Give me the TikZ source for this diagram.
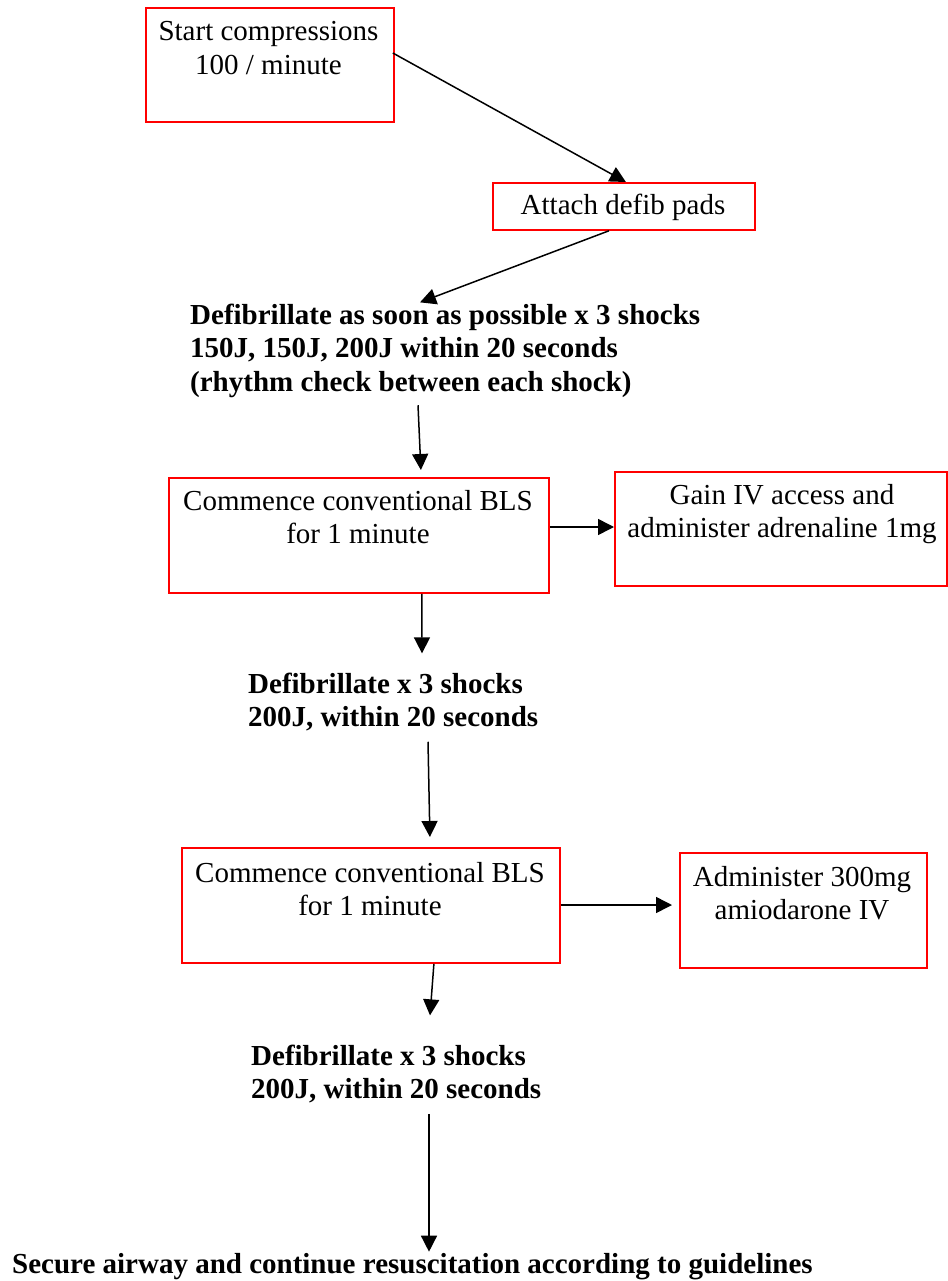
\documentclass[tikz,border=0pt]{standalone}
\usepackage{fontspec}
\setmainfont{Liberation Serif}
\usetikzlibrary{arrows.meta,calc}
\begin{document}
\begin{tikzpicture}[x=1pt,y=-1pt,
  box/.style={draw=red,line width=1.8pt,inner sep=0pt,anchor=north west},
  txt/.style={inner sep=0pt,font=\fontsize{29}{33.5}\selectfont},
  btxt/.style={txt,font=\fontsize{29}{33.5}\selectfont\bfseries,anchor=base west},
  arr/.style={-{Triangle[length=16pt,width=16pt]},line width=1.5pt}]
\useasboundingbox (0,0) rectangle (947,1281);
% boxes
\node[box,minimum width=248pt,minimum height=114pt] (b1) at (145,7) {};
\node[box,minimum width=262pt,minimum height=47pt] (b2) at (492,182) {};
\node[box,minimum width=380pt,minimum height=115pt] (b4) at (168,477) {};
\node[box,minimum width=332pt,minimum height=114pt] (b5) at (614,471) {};
\node[box,minimum width=378pt,minimum height=115pt] (b7) at (181,847) {};
\node[box,minimum width=247pt,minimum height=115pt] (b8) at (679,852) {};
% texts
\node[txt,anchor=base] (t1) at (268.5,41) {\begin{tabular}[t]{@{}c@{}}Start compressions\\100 / minute\end{tabular}};
\node[txt,anchor=base] (t2) at (623,215) {Attach defib pads};
\node[btxt] (t3) at (190,324) {\begin{tabular}[t]{@{}l@{}}Defibrillate as soon as possible x 3 shocks\\150J, 150J, 200J within 20 seconds\\(rhythm check between each shock)\end{tabular}};
\node[txt,anchor=base] (t4) at (358,510) {\begin{tabular}[t]{@{}c@{}}Commence conventional BLS\\for 1 minute\end{tabular}};
\node[txt,anchor=base] (t5) at (782,504) {\begin{tabular}[t]{@{}c@{}}Gain IV access and\\administer adrenaline 1mg\end{tabular}};
\node[btxt] (t6) at (248,693) {\begin{tabular}[t]{@{}l@{}}Defibrillate x 3 shocks\\200J, within 20 seconds\end{tabular}};
\node[txt,anchor=base] (t7) at (370,882) {\begin{tabular}[t]{@{}c@{}}Commence conventional BLS\\for 1 minute\end{tabular}};
\node[txt,anchor=base] (t8) at (802,886) {\begin{tabular}[t]{@{}c@{}}Administer 300mg\\amiodarone IV\end{tabular}};
\node[btxt] (t9) at (251,1065) {\begin{tabular}[t]{@{}l@{}}Defibrillate x 3 shocks\\200J, within 20 seconds\end{tabular}};
\node[btxt] (t10) at (12,1273) {Secure airway and continue resuscitation according to guidelines};
% connectors
\draw[arr] ([xshift=-2pt,yshift=-46pt]b1.north east) -- ([xshift=2pt]b2.north);
\draw[arr] ([xshift=-15pt]b2.south) -- ($(t3.north west)+(230,2)$);
\draw[arr] ($(t3.south west)+(228,4)$) -- ([xshift=62pt,yshift=7pt]b4.north);
\draw[arr] ([yshift=-50pt]b4.north east) -- ([yshift=-56pt]b5.north west);
\draw[arr] ([xshift=63pt]b4.south) -- ($(t6.north west)+(174,-16)$);
\draw[arr] ($(t6.south west)+(180,5)$) -- ([xshift=59pt,yshift=10pt]b7.north);
\draw[arr] ([yshift=-58pt]b7.north east) -- ([xshift=-7pt,yshift=-53pt]b8.north west);
\draw[arr] ([xshift=63pt]b7.south) -- ($(t9.north west)+(179,-26)$);
\draw[arr] ($(t9.south west)+(178,5)$) -- ($(t10.north west)+(417,-1)$);
\end{tikzpicture}
\end{document}
